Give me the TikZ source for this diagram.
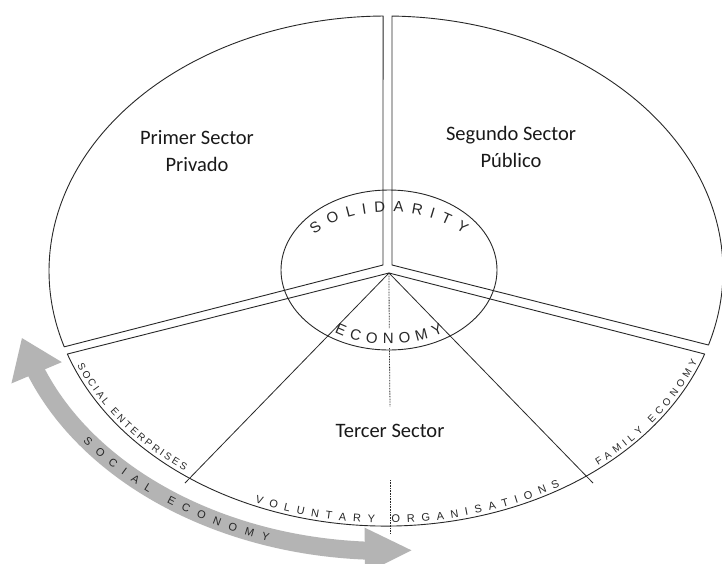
\documentclass[tikz,border=0pt]{standalone}
\usepackage{fontspec}
\setmainfont{Carlito}
\setsansfont{Liberation Sans}
\usetikzlibrary{calc,decorations.text,arrows.meta,bending,shapes.geometric}
\definecolor{bandgray}{RGB}{180,180,180}
\definecolor{ink}{RGB}{40,40,40}
\begin{document}
\begin{tikzpicture}[x=1pt,y=1pt,
  sectorshape/.style={draw=ink, line width=0.9pt, line join=round},
  divider/.style={draw=ink, line width=0.8pt},
  dotline/.style={draw=ink, line width=0.8pt, dash pattern=on 0.8pt off 0.8pt},
  sectorlabel/.style={font=\fontsize{20.5}{26.5}\selectfont, text=black!90, align=center, inner sep=0pt},
  curvetext/.style={decorate, decoration={text along path, text align=fit to path}},
  arrowband/.style={line width=18pt, draw=bandgray,
    {Triangle[length=38pt,width=52pt,flex]}-{Triangle[length=48pt,width=42pt,flex]}},
  innerring/.style={draw=ink, line width=0.9pt, ellipse, minimum width=216pt, minimum height=160pt, inner sep=0pt}
]
\fill[white] (0,0) rectangle (722,-563);
\useasboundingbox (0,0) rectangle (722,-563);

\coordinate (C) at (386,-271);
\coordinate (I) at (389,-270);
\coordinate (V) at (389,-273);
\coordinate (T1) at (383,-265);
\coordinate (T2) at (392,-265);
\coordinate (L) at (185,-483);
\coordinate (R) at (593,-483);
\coordinate (D1) at (389.2,-328);
\coordinate (D2) at (389.4,-348);
\coordinate (D3) at (390,-407);
\coordinate (D4) at (390,-480);
\coordinate (D5) at (390,-533);

% grey double arrow
\draw[arrowband] ($(C)+(193.8:375 and 280)$) arc[start angle=193.8, end angle=274.1, x radius=375, y radius=280];

% sectors
\draw[sectorshape] ($(C)+(90.5:337 and 255)$) -- (T1) -- ($(C)+(197.3:337 and 255)$)
  arc[start angle=197.3, end angle=90.5, x radius=337, y radius=255] -- cycle;
\draw[sectorshape] (T2) -- ($(C)+(88.98:337 and 255)$)
  arc[start angle=88.98, end angle=-16.87, x radius=337, y radius=255] -- cycle;
\draw[sectorshape] (V) -- ($(C)+(199:337 and 255)$)
  arc[start angle=199, end angle=341, x radius=337, y radius=255] -- cycle;

% internal lines of the third sector
\draw[divider] (V) -- (L);
\draw[divider] (V) -- (R);
\draw[dotline] (V) -- (D1);
\draw[dotline] (D2) -- (D3);
\draw[dotline] (D4) -- (D5);

% inner ellipse
\node[innerring] (inner) at (I) {};

% labels
\node[sectorlabel] (primer) at (197,-151) {Primer Sector\\Privado};
\node[sectorlabel] (segundo) at (511,-147) {Segundo Sector\\Público};
\node[sectorlabel, anchor=base] (tercer) at (390,-437) {Tercer Sector};

% curved texts
\path[curvetext, decoration={text={|\sffamily\fontsize{15}{15}\selectfont\color{ink}|SOLIDARITY}}]
  ($(I)+(142:95 and 58)$) arc[start angle=142, end angle=38, x radius=95, y radius=58];
\path[curvetext, decoration={text={|\sffamily\fontsize{15}{15}\selectfont\color{ink}|ECONOMY}}]
  ($(I)+(237:100 and 74)$) arc[start angle=237, end angle=303, x radius=100, y radius=74];
\path[curvetext, decoration={text={|\sffamily\fontsize{10}{10}\selectfont\color{ink}|SOCIAL ENTERPRISES}}]
  ($(C)+(202:333 and 251)$) arc[start angle=202, end angle=232.8, x radius=333, y radius=251];
\path[curvetext, decoration={text={|\sffamily\fontsize{11}{11}\selectfont\color{ink}|VOLUNTARY ORGANISATIONS}}]
  ($(C)+(246.9:334 and 252)$) arc[start angle=246.9, end angle=301.4, x radius=334, y radius=252];
\path[curvetext, decoration={text={|\sffamily\fontsize{10}{10}\selectfont\color{ink}|FAMILY ECONOMY}}]
  ($(C)+(309.4:334 and 252)$) arc[start angle=309.4, end angle=338.8, x radius=334, y radius=252];
\path[curvetext, decoration={text={|\sffamily\fontsize{11}{11}\selectfont\color{ink}|SOCIAL ECONOMY}}]
  ($(C)+(216.9:379 and 284)$) arc[start angle=216.9, end angle=251.9, x radius=379, y radius=284];
\end{tikzpicture}
\end{document}
